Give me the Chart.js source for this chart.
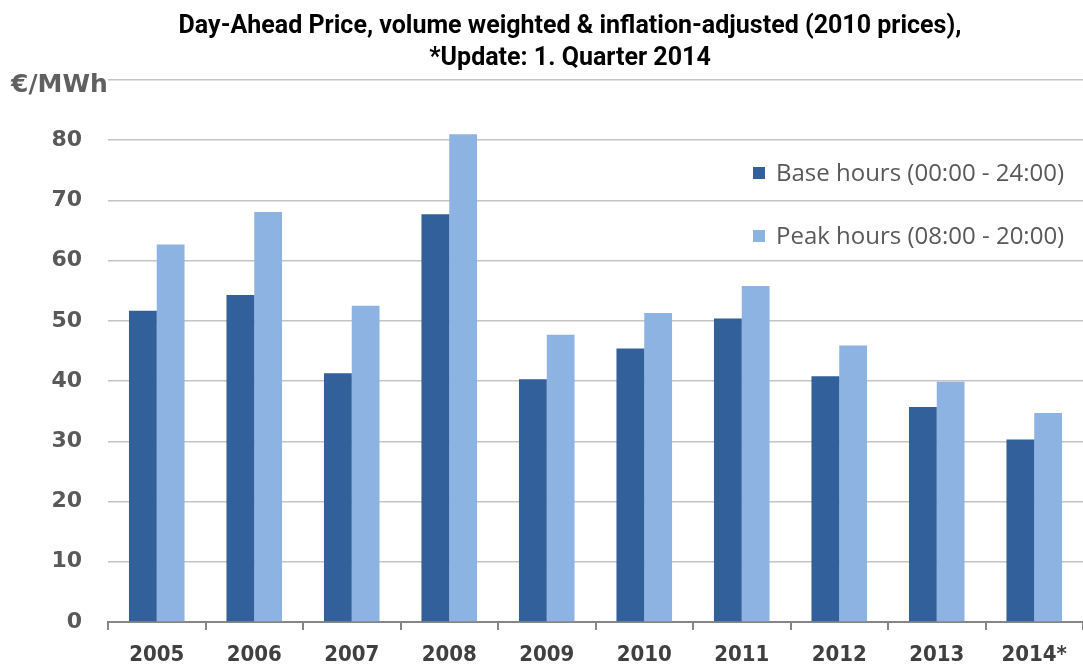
<!DOCTYPE html>
<html>
<head>
<meta charset="utf-8">
<script src="https://cdn.jsdelivr.net/npm/chart.js@4.4.0/dist/chart.umd.min.js"></script>
<style>
  html, body { margin: 0; padding: 0; background: #ffffff; }
  #wrap { width: 1083px; height: 669px; overflow: hidden; }
</style>
</head>
<body>
<div id="wrap"><canvas id="c" width="1083" height="669"></canvas></div>
<script>
const categories = ['2005', '2006', '2007', '2008', '2009', '2010', '2011', '2012', '2013', '2014*'];
const baseHours = [51.7, 54.3, 41.3, 67.7, 40.3, 45.4, 50.4, 40.8, 35.7, 30.3];
const peakHours = [62.7, 68.1, 52.5, 81.0, 47.7, 51.3, 55.8, 45.9, 39.9, 34.7];
const seriesLabels = ['Base hours (00:00 - 24:00)', 'Peak hours (08:00 - 20:00)'];
const titleLines = ['Day-Ahead Price, volume weighted & inflation-adjusted (2010 prices),', '*Update: 1. Quarter 2014'];
const unitLabel = '€/MWh';
const yMin = 0, yMax = 90, yStep = 10;

const unitPlugin = {
  id: 'unitLabel',
  afterDraw(chart) {
    const ctx = chart.ctx;
    const y = chart.scales.y.getPixelForValue(yMax);
    ctx.save();
    ctx.font = 'bold 25px "DejaVu Sans"';
    ctx.fillStyle = '#606060';
    ctx.textAlign = 'left';
    ctx.textBaseline = 'middle';
    ctx.fillText(unitLabel, 11, y + 5);
    ctx.restore();
  }
};

const legendPlugin = {
  id: 'insideLegend',
  afterDraw(chart) {
    const ctx = chart.ctx;
    ctx.save();
    ctx.font = '24px "Open Sans"';
    ctx.textAlign = 'left';
    ctx.textBaseline = 'middle';
    chart.data.datasets.forEach((ds, i) => {
      const y = 173 + i * 63;
      ctx.fillStyle = ds.backgroundColor;
      ctx.fillRect(753, y - 6, 12, 12);
      ctx.fillStyle = '#595959';
      ctx.fillText(ds.label, 776, y + 1);
    });
    ctx.restore();
  }
};

new Chart(document.getElementById('c'), {
  type: 'bar',
  data: {
    labels: categories,
    datasets: [
      { label: seriesLabels[0], data: baseHours, backgroundColor: '#31609A', borderWidth: 0 },
      { label: seriesLabels[1], data: peakHours, backgroundColor: '#8DB3E2', borderWidth: 0 }
    ]
  },
  options: {
    responsive: false,
    animation: false,
    layout: { padding: { left: 47, right: -10, top: 0, bottom: 0 } },
    datasets: { bar: { categoryPercentage: 0.57, barPercentage: 1.0 } },
    plugins: {
      legend: { display: false },
      tooltip: { enabled: false },
      title: {
        display: true,
        text: titleLines,
        color: '#000000',
        font: { family: 'Roboto', size: 25, weight: 'bold', lineHeight: 1.28 },
        padding: { top: 11, bottom: 5 }
      }
    },
    scales: {
      x: {
        grid: { display: true, offset: true, drawOnChartArea: false, drawTicks: true, tickLength: 8, color: '#868686', lineWidth: 2 },
        border: { display: true, color: '#868686', width: 2 },
        ticks: { color: '#404040', font: { family: '"DejaVu Sans Condensed", "DejaVu Sans"', size: 22, weight: 'bold' }, padding: 12, maxRotation: 0 },
        afterFit(scale) { scale.height = 47; }
      },
      y: {
        min: yMin, max: yMax,
        grid: { color: '#c4c4c4', lineWidth: 1.5, drawTicks: false },
        border: { display: false },
        ticks: {
          stepSize: yStep,
          color: '#595959',
          font: { family: '"DejaVu Sans"', size: 22, weight: 'bold' },
          padding: 26,
          callback: (v) => (v === yMax ? '' : v)
        },
        afterFit(scale) { scale.width = 61; }
      }
    }
  },
  plugins: [unitPlugin, legendPlugin]
});
</script>
</body>
</html>
